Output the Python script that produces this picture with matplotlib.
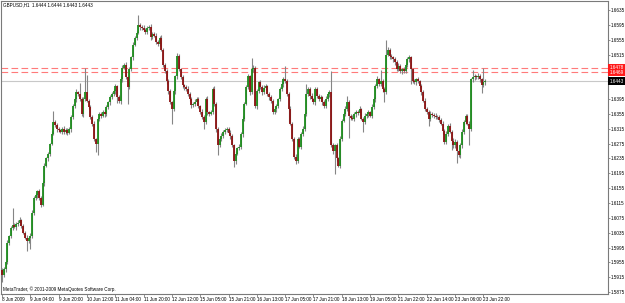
import matplotlib
matplotlib.use("Agg")
import matplotlib.pyplot as plt
import numpy as np

# GBPUSD H1, 8 Jun - 23 Jun 2009
# prices kept as pips above 1.5800
first_open = 135
close_pips = [
    120, 136, 155, 208, 227, 248, 256, 251, 259, 262, 270, 254, 235, 222, 214, 222, 227, 288, 328, 336,
    347, 328, 310, 368, 416, 435, 448, 475, 502, 534, 526, 515, 512, 507, 515, 507, 512, 504, 515, 547,
    576, 595, 614, 608, 595, 555, 595, 614, 590, 574, 547, 528, 488, 475, 542, 555, 550, 560, 555, 574,
    587, 600, 608, 616, 630, 600, 590, 648, 680, 688, 654, 627, 675, 707, 742, 760, 774, 795, 790, 787,
    782, 776, 787, 790, 763, 771, 766, 750, 744, 760, 728, 688, 670, 643, 616, 587, 568, 616, 656, 710,
    675, 654, 632, 627, 622, 608, 595, 579, 582, 587, 595, 576, 560, 547, 534, 595, 560, 555, 560, 622,
    582, 515, 470, 488, 496, 507, 512, 515, 504, 496, 470, 427, 448, 462, 467, 502, 542, 582, 627, 656,
    614, 675, 680, 576, 616, 640, 627, 614, 624, 630, 608, 600, 590, 560, 568, 576, 595, 622, 635, 648,
    643, 608, 568, 528, 488, 440, 427, 488, 467, 502, 515, 555, 608, 622, 603, 595, 587, 622, 603, 595,
    600, 587, 576, 595, 608, 614, 470, 454, 470, 435, 416, 488, 536, 555, 568, 587, 550, 544, 542, 555,
    560, 558, 568, 542, 534, 550, 555, 560, 550, 574, 595, 630, 648, 635, 643, 622, 614, 715, 728, 710,
    707, 702, 694, 675, 683, 670, 675, 670, 688, 702, 707, 675, 643, 640, 648, 643, 630, 614, 590, 568,
    560, 542, 555, 552, 550, 547, 547, 539, 528, 510, 480, 502, 523, 507, 483, 470, 480, 454, 443, 470,
    507, 534, 550, 528, 515, 648, 654, 656, 654, 656, 648, 632, 640, 643,
]
# wick lengths in pips above/below the body
up_wick = [
    4, 6, 5, 8, 3, 6, 45, 5, 4, 7, 6, 3, 5, 4, 6, 5, 7, 9, 5, 6,
    4, 7, 5, 6, 8, 4, 5, 3, 6, 30, 5, 4, 6, 3, 5, 7, 4, 6, 5, 4,
    6, 5, 8, 4, 30, 5, 6, 65, 45, 6, 4, 5, 7, 3, 6, 5, 4, 6, 8, 5,
    4, 6, 5, 7, 6, 4, 5, 8, 6, 5, 7, 4, 6, 5, 8, 6, 5, 27, 6, 5,
    7, 4, 6, 5, 8, 6, 4, 7, 5, 6, 8, 5, 4, 6, 5, 7, 4, 6, 5, 10,
    6, 5, 7, 4, 6, 8, 5, 6, 4, 7, 5, 6, 4, 8, 5, 6, 7, 4, 5, 6,
    8, 5, 4, 6, 7, 5, 6, 4, 5, 8, 6, 5, 7, 4, 6, 5, 8, 6, 5, 7,
    4, 30, 6, 5, 7, 4, 6, 5, 8, 6, 4, 7, 5, 6, 8, 5, 4, 6, 5, 7,
    35, 6, 5, 7, 4, 6, 8, 5, 6, 4, 7, 5, 27, 6, 5, 8, 4, 6, 5, 7,
    6, 4, 5, 8, 6, 5, 56, 7, 4, 6, 5, 8, 6, 4, 7, 15, 6, 5, 8, 4,
    6, 5, 7, 4, 6, 8, 5, 6, 4, 7, 5, 6, 8, 5, 30, 6, 5, 40, 6, 5,
    7, 4, 6, 5, 8, 6, 4, 7, 5, 6, 8, 5, 4, 6, 5, 7, 4, 6, 5, 8,
    6, 5, 7, 4, 6, 8, 5, 6, 4, 7, 5, 6, 4, 8, 5, 6, 7, 4, 5, 6,
    8, 5, 4, 6, 7, 5, 20, 6, 5, 8, 6, 5, 40, 6,
]
low_wick = [
    18, 5, 6, 4, 7, 5, 6, 4, 8, 5, 6, 7, 4, 5, 27, 6, 30, 5, 4, 6,
    7, 5, 6, 4, 8, 5, 6, 7, 4, 5, 6, 8, 5, 4, 6, 7, 5, 6, 4, 8,
    5, 6, 7, 4, 5, 6, 8, 5, 4, 6, 7, 5, 6, 22, 30, 5, 6, 4, 7, 5,
    6, 8, 5, 4, 6, 15, 5, 7, 6, 4, 5, 45, 6, 5, 7, 4, 6, 5, 8, 6,
    4, 7, 5, 6, 8, 5, 4, 6, 5, 7, 4, 6, 5, 8, 6, 4, 40, 5, 6, 8,
    5, 4, 6, 7, 5, 6, 4, 8, 5, 6, 7, 4, 5, 6, 20, 5, 7, 6, 4, 5,
    6, 8, 25, 4, 6, 7, 5, 6, 4, 8, 5, 14, 7, 4, 5, 6, 8, 5, 4, 6,
    7, 5, 6, 4, 8, 5, 6, 7, 4, 5, 6, 8, 5, 4, 6, 7, 5, 6, 4, 8,
    5, 6, 35, 4, 5, 6, 8, 5, 4, 6, 7, 5, 6, 4, 8, 5, 6, 7, 4, 5,
    6, 8, 5, 4, 6, 7, 5, 6, 60, 8, 5, 6, 7, 4, 5, 6, 60, 5, 4, 6,
    7, 5, 6, 4, 27, 5, 6, 7, 4, 5, 6, 8, 5, 4, 6, 7, 27, 6, 4, 8,
    5, 6, 7, 4, 5, 6, 8, 5, 4, 6, 7, 40, 6, 4, 8, 5, 6, 7, 4, 5,
    6, 20, 5, 4, 6, 7, 5, 6, 4, 8, 5, 6, 7, 4, 25, 6, 8, 30, 4, 6,
    7, 5, 6, 4, 45, 5, 6, 7, 4, 5, 6, 20, 5, 6,
]

date_labels = ["8 Jun 2009", "9 Jun 04:00", "9 Jun 20:00", "10 Jun 12:00", "11 Jun 04:00",
               "11 Jun 20:00", "12 Jun 12:00", "15 Jun 05:00", "15 Jun 21:00", "16 Jun 13:00",
               "17 Jun 05:00", "17 Jun 21:00", "18 Jun 13:00", "19 Jun 05:00", "21 Jun 22:00",
               "22 Jun 14:00", "23 Jun 06:00", "23 Jun 22:00"]
label_step = 16
price_ticks = [1.5875, 1.5915, 1.5955, 1.5995, 1.6035, 1.6075, 1.6115, 1.6155, 1.6195, 1.6235,
               1.6275, 1.6315, 1.6355, 1.6395, 1.6435, 1.6475, 1.6515, 1.6555, 1.6595, 1.6635]
title = "GBPUSD,H1  1.6444 1.6444 1.6443 1.6443"
bid = 1.6443
red_lines = [1.6478, 1.6469]

closes = 1.58 + np.array(close_pips) / 10000
opens = np.r_[1.58 + first_open / 10000, closes[:-1]]
highs = np.maximum(opens, closes) + np.array(up_wick) / 10000
lows = np.minimum(opens, closes) - np.array(low_wick) / 10000
idx = np.arange(len(closes))

plt.rcParams['font.family'] = ['Liberation Sans Narrow', 'Liberation Sans', 'DejaVu Sans']
fs = 3.3

fig = plt.figure(figsize=(6.25, 3.03), dpi=100)
ax = fig.add_axes([1 / 625, 9 / 303, 607 / 625, 293 / 303])

# grey bid level and red resistance lines
ax.axhline(bid, color='#c8c8c8', lw=0.8, zorder=1)
for lv in red_lines:
    ax.axhline(lv, color='#ff7a7a', lw=0.8, dashes=(6, 3), zorder=1)

up = closes >= opens
ax.vlines(idx, lows, highs, color='#858585', lw=0.8, zorder=2)
ax.vlines(idx[up], opens[up], closes[up], color='#1c8c1c', lw=1.3, zorder=3)
ax.vlines(idx[~up], opens[~up], closes[~up], color='#8b1010', lw=1.3, zorder=3)

ax.set_xlim(-0.565, 342.4)
ax.set_ylim(1.58699, 1.66592)

ax.set_xticks(idx[::label_step][:len(date_labels)])
ax.set_xticklabels(date_labels, ha='left', fontsize=fs)
ax.yaxis.tick_right()
ax.set_yticks(price_ticks)
# the two levels under the price boxes are hidden on the terminal
hidden = (1.6435, 1.6475)
ax.set_yticklabels(["" if p in hidden else "%.4f" % p for p in price_ticks], fontsize=fs)
ax.tick_params(axis='x', length=2.0, width=0.5, pad=0.3, color='#666666')
ax.tick_params(axis='y', length=1.2, width=0.5, pad=0.6, color='#666666')
for s in ax.spines.values():
    s.set_color('#7a7a7a')
    s.set_linewidth(0.8)

# price boxes on the right scale
ax.annotate("%.4f\n%.4f" % tuple(red_lines), xy=(1, sum(red_lines) / 2),
            xycoords=('axes fraction', 'data'), xytext=(1.0, 0), textcoords='offset points',
            ha='left', va='center', fontsize=fs, color='white', linespacing=0.85,
            annotation_clip=False, zorder=5,
            bbox=dict(boxstyle='square,pad=0.3', fc='#ff1a1a', ec='none'))
ax.annotate("%.4f" % bid, xy=(1, bid), xycoords=('axes fraction', 'data'),
            xytext=(1.0, 0), textcoords='offset points', ha='left', va='center',
            fontsize=fs, color='white', annotation_clip=False, zorder=5,
            bbox=dict(boxstyle='square,pad=0.3', fc='black', ec='none'))

fig.text(3 / 625, 1 - 2 / 303, title, ha='left', va='top', fontsize=fs)
fig.text(3 / 625, (303 - 289) / 303, "MetaTrader, \u00a9 2001-2009 MetaQuotes Software Corp.",
         ha='left', va='center', fontsize=fs)

fig.savefig("out.png", dpi=100, facecolor='white')
